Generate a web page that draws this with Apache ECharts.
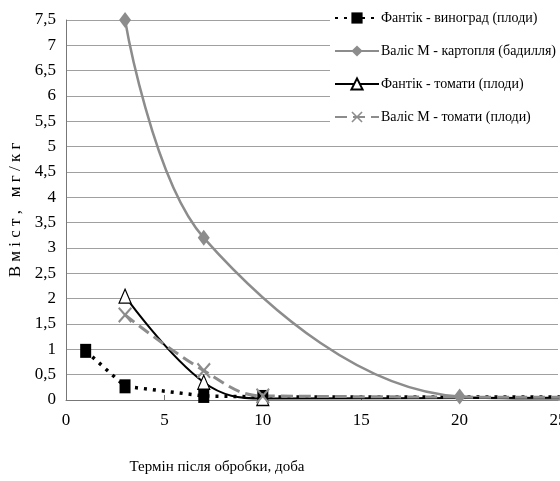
<!DOCTYPE html>
<html>
<head>
<meta charset="utf-8">
<script src="https://cdn.jsdelivr.net/npm/echarts@6/dist/echarts.min.js"></script>
<style>html,body{margin:0;padding:0;background:#fff}#c{width:560px;height:481px}</style>
</head>
<body>
<div id="c"></div>
<script>
// Data
const names = [
  'Фантік - виноград (плоди)',
  'Валіс М - картопля (бадилля)',
  'Фантік - томати (плоди)',
  'Валіс М - томати (плоди)'
];
const grapeX = [1, 3, 7, 10, 30];
const grapeY = [0.97, 0.27, 0.08, 0.06, 0.06];
const potatoX = [3, 7, 20, 30];
const potatoY = [7.5, 3.2, 0.07, 0];
const tomFX = [3, 7, 10, 30];
const tomFY = [2.05, 0.35, 0.03, 0.05];
const tomVX = [3, 7, 10, 30];
const tomVY = [1.68, 0.58, 0.08, 0.05];
const xTitle = 'Термін після обробки, доба';
const yTitle = 'В м і с т ,   м г / к г';

const pairs = (xs, ys) => xs.map((x, i) => [x, ys[i]]);
const FONT = '"Liberation Serif", "Times New Roman", serif';
const GRAY = '#8c8c8c';
const crossPath = 'path://M0,1 L1,0 L5,4 L9,0 L10,1 L6,5 L10,9 L9,10 L5,6 L1,10 L0,9 L4,5 Z';

const chart = echarts.init(document.getElementById('c'), null, {renderer: 'canvas'});
chart.setOption({
  animation: false,
  backgroundColor: '#fff',
  grid: {left: 66, right: 2, top: 20, bottom: 81, containLabel: false, outerBoundsMode: 'none'},
  xAxis: {
    type: 'value', min: 0, max: 25, interval: 5,
    name: xTitle, nameLocation: 'middle', nameGap: 60,
    nameTextStyle: {fontFamily: FONT, fontSize: 15, color: '#000', padding: [0, 190, 0, 0]},
    axisLine: {show: true, lineStyle: {color: '#777', width: 1}},
    axisTick: {show: true, inside: true, length: 5, lineStyle: {color: '#777'}},
    axisLabel: {fontFamily: FONT, fontSize: 17, color: '#000', margin: 12},
    splitLine: {show: false}
  },
  yAxis: {
    type: 'value', min: 0, max: 7.5, interval: 0.5,
    name: yTitle, nameLocation: 'middle', nameGap: 40, nameRotate: 90,
    nameTextStyle: {fontFamily: FONT, fontSize: 17, color: '#000'},
    axisLine: {show: true, lineStyle: {color: '#777', width: 1}},
    axisTick: {show: false},
    axisLabel: {fontFamily: FONT, fontSize: 17, color: '#000', margin: 10,
      formatter: v => String(v).replace('.', ',')},
    splitLine: {show: true, lineStyle: {color: '#a0a0a0', width: 1}}
  },
  legend: {
    orient: 'vertical', left: 330, top: 9,
    itemWidth: 44, itemHeight: 14, itemGap: 19, padding: [2, 4, 4, 4],
    backgroundColor: '#fff',
    textStyle: {fontFamily: FONT, fontSize: 14, color: '#000', padding: [0, 0, 0, -3]},
    data: names
  },
  series: [
    {
      name: names[0], type: 'line', data: pairs(grapeX, grapeY), clip: false,
      symbol: 'rect', symbolSize: [11, 14],
      itemStyle: {color: '#000'},
      lineStyle: {color: '#000', width: 3.5, type: [3, 6]}
    },
    {
      name: names[1], type: 'line', data: pairs(potatoX, potatoY), clip: false, smooth: 0.35,
      symbol: 'diamond', symbolSize: [12, 16],
      itemStyle: {color: GRAY},
      lineStyle: {color: GRAY, width: 2.5}
    },
    {
      name: names[2], type: 'line', data: pairs(tomFX, tomFY), clip: false, smooth: 0.4,
      symbol: 'triangle', symbolSize: [12, 14],
      itemStyle: {color: '#fff', borderColor: '#000', borderWidth: 1.2},
      lineStyle: {color: '#000', width: 2}
    },
    {
      name: names[3], type: 'line', data: pairs(tomVX, tomVY), clip: false, smooth: 0.4,
      symbol: crossPath, symbolSize: [14, 16],
      itemStyle: {color: GRAY},
      lineStyle: {color: GRAY, width: 3, type: [12, 6]}
    }
  ]
});
</script>
</body>
</html>
